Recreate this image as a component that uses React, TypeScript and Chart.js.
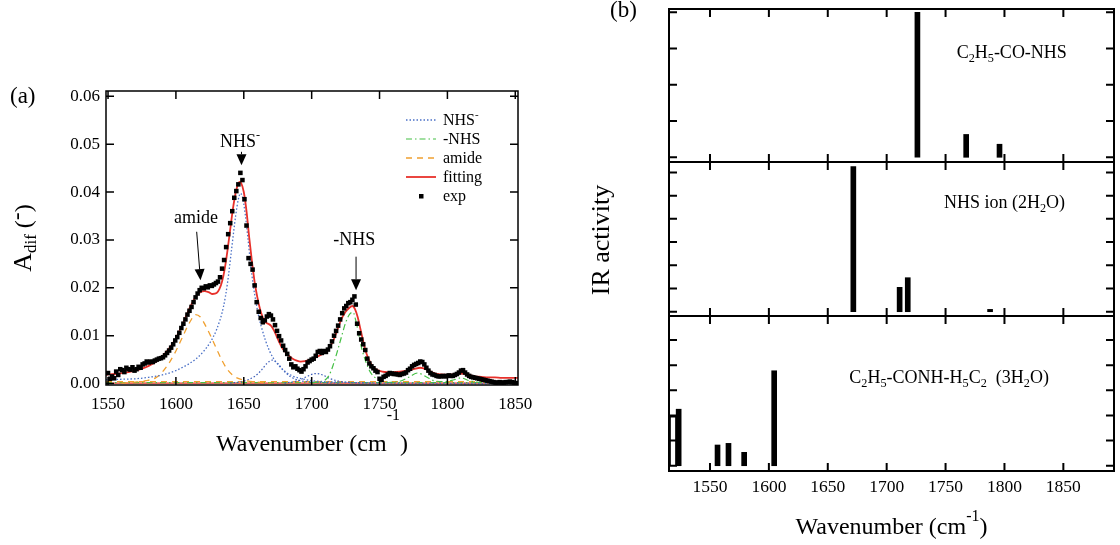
import React, { useEffect, useRef } from 'react';
import { Chart, registerables } from 'chart.js';

Chart.register(...registerables);

const SERIF = "'Liberation Serif', 'Times New Roman', Times, serif";
const RED = '#e8312b';
const BLUE = '#4a70c6';
const BLUE2 = '#3c5cb8';
const GREEN = '#45c045';
const ORANGE = '#f0a030';

// ---------------- panel (a) ----------------
const aXTicks = [1550, 1600, 1650, 1700, 1750, 1800, 1850];
const aYTicks = [0, 0.01, 0.02, 0.03, 0.04, 0.05, 0.06];

const expData: number[][] = [
  [1550, 0.0022], [1551.5, 0.001], [1553, 0.0015], [1554.5, 0.0011], [1556, 0.0025], [1557.5, 0.0018],
  [1559, 0.003], [1560.5, 0.0028], [1562, 0.0024], [1563.5, 0.0033], [1565, 0.003], [1566.5, 0.0029],
  [1568, 0.0034], [1569.5, 0.0027], [1571, 0.003], [1572.5, 0.0035], [1574, 0.0033], [1575.5, 0.004],
  [1577, 0.0042], [1578.5, 0.0046], [1580, 0.0044], [1581.5, 0.0046], [1583, 0.0045], [1584.5, 0.0048],
  [1586, 0.005], [1587.5, 0.0052], [1589, 0.0053], [1590.5, 0.0055], [1592, 0.0059], [1593.5, 0.0064],
  [1595, 0.0069], [1596.5, 0.0075], [1598, 0.0082], [1599.5, 0.009], [1601, 0.0097], [1602.5, 0.0106],
  [1604, 0.0116], [1605.5, 0.0125], [1607, 0.0134], [1608.5, 0.0144], [1610, 0.0152], [1611.5, 0.016],
  [1613, 0.017], [1614.5, 0.018], [1616, 0.0188], [1617.5, 0.0195], [1619, 0.02], [1620.5, 0.0199],
  [1622, 0.0203], [1623.5, 0.0201], [1625, 0.0205], [1626.5, 0.0204], [1628, 0.0207], [1629.5, 0.021],
  [1631, 0.0213], [1632.5, 0.0222], [1634, 0.024], [1635.5, 0.0258], [1637, 0.0285], [1638.5, 0.0312],
  [1640, 0.0335], [1641.5, 0.036], [1643, 0.0388], [1644.5, 0.0402], [1646, 0.0416], [1647.5, 0.044],
  [1649, 0.0425], [1650.5, 0.0385], [1652, 0.033], [1653.5, 0.0262], [1655, 0.025], [1656.5, 0.0238],
  [1658, 0.0205], [1659.5, 0.017], [1661, 0.015], [1662.5, 0.0137], [1664, 0.0128], [1665.5, 0.0132],
  [1667, 0.014], [1668.5, 0.0145], [1670, 0.0142], [1671.5, 0.0134], [1673, 0.0122], [1674.5, 0.011],
  [1676, 0.0099], [1677.5, 0.009], [1679, 0.0079], [1680.5, 0.007], [1682, 0.0062], [1683.5, 0.0052],
  [1685, 0.004], [1686.5, 0.0034], [1688, 0.0036], [1689.5, 0.0031], [1691, 0.0028], [1692.5, 0.0025],
  [1694, 0.003], [1695.5, 0.0036], [1697, 0.0044], [1698.5, 0.0047], [1700, 0.005], [1701.5, 0.0052],
  [1703, 0.0058], [1704.5, 0.0066], [1706, 0.0068], [1707.5, 0.0064], [1709, 0.0068], [1710.5, 0.0066],
  [1712, 0.0071], [1713.5, 0.0078], [1715, 0.0088], [1716.5, 0.01], [1718, 0.011], [1719.5, 0.0121],
  [1721, 0.0134], [1722.5, 0.0147], [1724, 0.0157], [1725.5, 0.0162], [1727, 0.0168], [1728.5, 0.017],
  [1730, 0.0175], [1731.5, 0.0182], [1732.5, 0.0165], [1733.5, 0.0125], [1735, 0.0105], [1736.5, 0.0092],
  [1738, 0.0082], [1739.5, 0.007], [1741, 0.0052], [1742.5, 0.0042], [1744, 0.0036], [1745.5, 0.0032],
  [1747, 0.0027], [1748.5, 0.0024], [1750, 0.001], [1751.5, 0.0008], [1753, 0.0014], [1754.5, 0.0016],
  [1756, 0.0019], [1757.5, 0.0022], [1759, 0.0021], [1760.5, 0.002], [1762, 0.002], [1763.5, 0.0019],
  [1765, 0.0018], [1766.5, 0.002], [1768, 0.0021], [1769.5, 0.0023], [1771, 0.0028], [1772.5, 0.0031],
  [1774, 0.0036], [1775.5, 0.0039], [1777, 0.0041], [1778.5, 0.0043], [1780, 0.0046], [1781.5, 0.0045],
  [1783, 0.004], [1784.5, 0.0033], [1786, 0.0027], [1787.5, 0.0022], [1789, 0.0019], [1790.5, 0.0018],
  [1792, 0.0016], [1793.5, 0.0015], [1795, 0.0015], [1796.5, 0.0016], [1798, 0.0015], [1799.5, 0.0016],
  [1801, 0.0017], [1802.5, 0.0016], [1804, 0.0016], [1805.5, 0.0018], [1807, 0.002], [1808.5, 0.0023],
  [1810, 0.0027], [1811.5, 0.0028], [1813, 0.0023], [1814.5, 0.0019], [1816, 0.0016], [1817.5, 0.0014],
  [1819, 0.0013], [1820.5, 0.0012], [1822, 0.0011], [1823.5, 0.001], [1825, 0.0009], [1826.5, 0.0008],
  [1828, 0.0007], [1829.5, 0.0006], [1831, 0.0005], [1832.5, 0.0004], [1834, 0.0003], [1835.5, 0.0002],
  [1837, 0.0002], [1838.5, 0.0003], [1840, 0.0002], [1841.5, 0.0002], [1843, 0.0003], [1844.5, 0.0003],
  [1846, 0.0004], [1847.5, 0.0003], [1849, 0.0002], [1850.5, 0.0001],
];

const fitData: number[][] = [
  [1548.5, 0.0018], [1550, 0.0019], [1555, 0.002], [1560, 0.0022], [1565, 0.0024], [1570, 0.0027],
  [1575, 0.0031], [1580, 0.0037], [1585, 0.0045], [1590, 0.0057], [1595, 0.0073], [1600, 0.0095],
  [1605, 0.0124], [1610, 0.0157], [1615, 0.0183], [1618, 0.0191], [1621, 0.0193], [1624, 0.0191],
  [1627, 0.0187], [1630, 0.0189], [1632, 0.0197], [1634, 0.0213], [1636, 0.024], [1638, 0.0278],
  [1640, 0.0322], [1642, 0.0365], [1644, 0.0398], [1646, 0.0418], [1647, 0.0421], [1648, 0.0419],
  [1650, 0.04], [1652, 0.036], [1654, 0.0305], [1656, 0.0255], [1658, 0.0212], [1660, 0.018],
  [1662, 0.0155], [1664, 0.0138], [1666, 0.0128], [1668, 0.0125], [1670, 0.0121], [1672, 0.0112],
  [1674, 0.01], [1676, 0.0087], [1678, 0.0076], [1680, 0.0068], [1683, 0.0059], [1686, 0.0052],
  [1689, 0.0048], [1692, 0.0046], [1695, 0.0047], [1698, 0.0049], [1701, 0.0052], [1704, 0.0056],
  [1707, 0.006], [1710, 0.0066], [1713, 0.0075], [1716, 0.009], [1719, 0.0113], [1722, 0.0135],
  [1725, 0.015], [1728, 0.0159], [1730, 0.0162], [1732, 0.0155], [1734, 0.0138], [1736, 0.0113],
  [1738, 0.0088], [1740, 0.0066], [1742, 0.0051], [1744, 0.004], [1746, 0.0033], [1748, 0.0029],
  [1752, 0.0025], [1756, 0.0024], [1760, 0.0024], [1765, 0.0025], [1770, 0.0027], [1775, 0.003],
  [1780, 0.0033], [1785, 0.0029], [1790, 0.0022], [1795, 0.0019], [1800, 0.0018], [1805, 0.0019],
  [1810, 0.0021], [1815, 0.0019], [1820, 0.0015], [1825, 0.0014], [1830, 0.0013], [1835, 0.0013],
  [1840, 0.0012], [1845, 0.0012], [1850, 0.0012], [1852, 0.0012],
];

const nhsIonData: number[][] = [
  [1548.5, 0.0008], [1560, 0.0009], [1570, 0.001], [1580, 0.0013], [1590, 0.0018], [1600, 0.0027],
  [1605, 0.0034], [1610, 0.0042], [1615, 0.0052], [1620, 0.0066], [1625, 0.0085], [1630, 0.0113],
  [1635, 0.016], [1638, 0.021], [1641, 0.028], [1644, 0.035], [1646, 0.0385], [1647.5, 0.0397],
  [1649, 0.039], [1651, 0.0355], [1653, 0.0305], [1655, 0.025], [1657, 0.0205], [1659, 0.017],
  [1661, 0.014], [1663, 0.0118], [1666, 0.009], [1669, 0.0068], [1672, 0.0052], [1676, 0.0037],
  [1680, 0.0026], [1685, 0.0017], [1690, 0.0012], [1700, 0.0006], [1720, 0.0003], [1750, 0.0001],
  [1852, 0.0],
];

const nhsEsterData: number[][] = [
  [1700, 0.0002], [1709, 0.0006], [1713, 0.0018], [1716, 0.004], [1719, 0.0068], [1722, 0.0098],
  [1725, 0.0127], [1728, 0.0145], [1730.5, 0.0149], [1733, 0.0125], [1735, 0.0098], [1737, 0.0072],
  [1740, 0.0045], [1743, 0.0025], [1747, 0.0012], [1752, 0.0005], [1760, 0.0002],
];

const amideData: number[][] = [
  [1560, 0.0001], [1570, 0.0003], [1578, 0.0006], [1585, 0.0012], [1590, 0.0024], [1595, 0.0043],
  [1600, 0.0068], [1605, 0.0098], [1610, 0.0127], [1614.5, 0.0144], [1618, 0.0139], [1622, 0.012],
  [1626, 0.0097], [1630, 0.0072], [1634, 0.0048], [1638, 0.0029], [1643, 0.0015], [1650, 0.0007],
  [1660, 0.0003], [1670, 0.0001],
];

const blueMinorA: number[][] = [
  [1640, 0.0001], [1650, 0.0005], [1658, 0.0015], [1663, 0.0028], [1667, 0.0042], [1671, 0.0049],
  [1675, 0.0042], [1679, 0.0028], [1684, 0.0015], [1690, 0.0007], [1700, 0.0003], [1720, 0.0001],
];

const blueMinorB: number[][] = [
  [1680, 0.0001], [1690, 0.0006], [1696, 0.0014], [1701, 0.002], [1704, 0.0021], [1708, 0.0018],
  [1713, 0.0011], [1720, 0.0005], [1730, 0.0002], [1745, 0.0001],
];

const greenMinor: number[][] = [
  [1755, 0.0002], [1765, 0.0005], [1772, 0.0014], [1778, 0.0022], [1784, 0.0015], [1790, 0.0006],
  [1798, 0.0004], [1805, 0.0008], [1810, 0.0012], [1815, 0.0007], [1825, 0.0002], [1852, 0.0001],
];

const baseOrange: number[][] = [[1548.5, 0.0004], [1852, 0.0004]];
const baseGreen: number[][] = [[1548.5, 0.0002], [1852, 0.0002]];
const baseRed: number[][] = [[1548.5, 0.0001], [1852, 0.0001]];

// ---------------- panel (b) ----------------
const bXTicks = [1550, 1600, 1650, 1700, 1750, 1800, 1850];
const topTicks = [0, 1, 2, 3, 4];
const midTicks = [0, 1, 2, 3, 4, 5, 6];
const botTicks = [0, 1, 2, 3, 4, 5];

const topBars: number[][] = [[1726.1, 4.0], [1767.5, 0.63], [1795.8, 0.36]];
const midBars: number[][] = [[1671.7, 6.25], [1711.0, 1.05], [1717.9, 1.465], [1787.8, 0.1]];
const botBars: number[][] = [[1523.4, 2.25], [1556.4, 0.825], [1565.7, 0.89], [1579.0, 0.534], [1604.5, 3.78]];
const botHollowBars: number[][] = [[1518.6, 1.99]];

// ---------------- helpers ----------------
type Part = { t: string; k?: 'sub' | 'sup'; s?: number; d?: number };

function drawRich(ctx: CanvasRenderingContext2D, parts: Part[], x: number, y: number, size: number, align: 'left' | 'center' | 'right') {
  const sz = (p: Part) => p.s ?? (p.k ? size * 0.68 : size);
  const off = (p: Part) => p.d ?? (p.k === 'sub' ? size * 0.22 : p.k === 'sup' ? -size * 0.42 : 0);
  let w = 0;
  for (const p of parts) {
    ctx.font = `${sz(p)}px ${SERIF}`;
    w += ctx.measureText(p.t).width;
  }
  let cx = align === 'center' ? x - w / 2 : align === 'right' ? x - w : x;
  ctx.textAlign = 'left';
  ctx.textBaseline = 'alphabetic';
  for (const p of parts) {
    ctx.font = `${sz(p)}px ${SERIF}`;
    ctx.fillText(p.t, cx, y + off(p));
    cx += ctx.measureText(p.t).width;
  }
}

const toXY = (arr: number[][]) => arr.map(([x, y]) => ({ x, y }));

function lineDs(label: string, data: number[][], color: string, width: number, dash: number[], order: number) {
  return {
    label,
    data: toXY(data),
    borderColor: color,
    backgroundColor: color,
    borderWidth: width,
    borderDash: dash,
    pointRadius: 0,
    pointHoverRadius: 0,
    fill: false,
    cubicInterpolationMode: 'monotone',
    order,
  };
}

function frameTicks(lw: number, len: number, xTicks: number[], yTicks: number[]) {
  return {
    id: 'frameTicks',
    afterDatasetsDraw(chart: any) {
      const { ctx, chartArea, scales } = chart;
      const { left, right, top, bottom } = chartArea;
      ctx.save();
      ctx.strokeStyle = '#000';
      ctx.lineWidth = lw;
      ctx.setLineDash([]);
      ctx.strokeRect(left, top, right - left, bottom - top);
      ctx.beginPath();
      for (const v of xTicks) {
        const px = scales.x.getPixelForValue(v);
        ctx.moveTo(px, bottom);
        ctx.lineTo(px, bottom - len);
        ctx.moveTo(px, top);
        ctx.lineTo(px, top + len);
      }
      for (const v of yTicks) {
        const py = scales.y.getPixelForValue(v);
        ctx.moveTo(left, py);
        ctx.lineTo(left + len, py);
        ctx.moveTo(right, py);
        ctx.lineTo(right - len, py);
      }
      ctx.stroke();
      ctx.restore();
    },
  };
}

function arrow(ctx: CanvasRenderingContext2D, x1: number, y1: number, x2: number, y2: number) {
  const ang = Math.atan2(y2 - y1, x2 - x1);
  const hl = 11, hw = 5;
  const bx = x2 - hl * Math.cos(ang), by = y2 - hl * Math.sin(ang);
  ctx.beginPath();
  ctx.lineWidth = 1;
  ctx.moveTo(x1, y1);
  ctx.lineTo(bx, by);
  ctx.stroke();
  ctx.beginPath();
  ctx.moveTo(x2, y2);
  ctx.lineTo(bx + hw * Math.sin(ang), by - hw * Math.cos(ang));
  ctx.lineTo(bx - hw * Math.sin(ang), by + hw * Math.cos(ang));
  ctx.closePath();
  ctx.fill();
}

// annotation anchors, in data units (wavenumber, A_dif)
const annotations = [
  { parts: [{ t: 'NHS' }, { t: '-', k: 'sup' }] as Part[], lx: 1647.2, ly: 0.0494, tail: [1648.3, 0.0484], tip: [1648.3, 0.0456] },
  { parts: [{ t: 'amide' }] as Part[], lx: 1614.8, ly: 0.0335, tail: [1615.3, 0.0317], tip: [1618.1, 0.0216] },
  { parts: [{ t: '-NHS' }] as Part[], lx: 1731.4, ly: 0.0289, tail: [1732.7, 0.0265], tip: [1732.7, 0.0195] },
];

const legendRows: { parts: Part[]; key: string }[] = [
  { parts: [{ t: 'NHS' }, { t: '-', k: 'sup', d: -7 }], key: 'NHS-' },
  { parts: [{ t: '-NHS' }], key: '-NHS' },
  { parts: [{ t: 'amide' }], key: 'amide' },
  { parts: [{ t: 'fitting' }], key: 'fitting' },
  { parts: [{ t: 'exp' }], key: 'exp' },
];

const leftDecor = {
  id: 'leftDecor',
  afterDraw(chart: any) {
    const { ctx, scales, chartArea } = chart;
    const sx = scales.x, sy = scales.y;
    ctx.save();
    ctx.fillStyle = '#000';
    ctx.strokeStyle = '#000';
    // panel label
    drawRich(ctx, [{ t: '(a)' }], 10, 103, 23, 'left');
    // x title
    const cx = (chartArea.left + chartArea.right) / 2;
    drawRich(ctx, [{ t: 'Wavenumber (cm' }, { t: '-1', k: 'sup', s: 16, d: -31 }, { t: ')' }], cx, 451, 24, 'center');
    // y title (rotated)
    const cy = (chartArea.top + chartArea.bottom) / 2;
    ctx.save();
    ctx.translate(31, cy);
    ctx.rotate(-Math.PI / 2);
    drawRich(ctx, [{ t: 'A', s: 26 }, { t: 'dif', k: 'sub', s: 17, d: 5 }, { t: ' (' }, { t: '-', d: -7 }, { t: ')' }], 0, 0, 24, 'center');
    ctx.restore();
    // annotations
    for (const a of annotations) {
      drawRich(ctx, a.parts, sx.getPixelForValue(a.lx), sy.getPixelForValue(a.ly), 18, 'center');
      arrow(ctx, sx.getPixelForValue(a.tail[0]), sy.getPixelForValue(a.tail[1]), sx.getPixelForValue(a.tip[0]), sy.getPixelForValue(a.tip[1]));
    }
    // legend
    const ds = chart.data.datasets;
    legendRows.forEach((row, i) => {
      const yc = 120 + i * 19;
      const d = ds.find((q: any) => q.label === row.key);
      if (row.key === 'exp') {
        ctx.fillStyle = '#000';
        ctx.fillRect(419, yc - 2, 4.5, 4.5);
      } else {
        ctx.save();
        ctx.strokeStyle = d.borderColor;
        ctx.lineWidth = d.borderWidth;
        ctx.setLineDash(d.borderDash || []);
        ctx.beginPath();
        ctx.moveTo(406, yc);
        ctx.lineTo(436, yc);
        ctx.stroke();
        ctx.restore();
      }
      ctx.fillStyle = '#000';
      drawRich(ctx, row.parts, 443, yc + 5, 16, 'left');
    });
    ctx.restore();
  },
};

function makeLeftConfig(): any {
  return {
    type: 'line',
    data: {
      datasets: [
        {
          label: 'exp', data: toXY(expData), showLine: false, pointStyle: 'rect', pointRadius: 3.2, pointHoverRadius: 3.2,
          pointBorderWidth: 0, pointBackgroundColor: '#000', borderColor: '#000', backgroundColor: '#000', order: 0,
        },
        lineDs('fitting', fitData, RED, 1.8, [], 1),
        lineDs('NHS-', nhsIonData, BLUE, 1.3, [1.5, 2], 3),
        lineDs('-NHS', nhsEsterData, GREEN, 1.2, [6, 3, 1.5, 3], 3),
        lineDs('amide', amideData, ORANGE, 1.3, [6, 5], 3),
        lineDs('minorBlueA', blueMinorA, BLUE2, 1.2, [1.5, 2], 4),
        lineDs('minorBlueB', blueMinorB, BLUE2, 1.2, [1.5, 2], 4),
        lineDs('minorGreen', greenMinor, GREEN, 1.1, [6, 3, 1.5, 3], 4),
        lineDs('baseOrange', baseOrange, ORANGE, 1.2, [6, 5], 5),
        lineDs('baseGreen', baseGreen, GREEN, 1.1, [6, 3, 1.5, 3], 5),
        lineDs('baseRed', baseRed, RED, 1.2, [], 5),
      ],
    },
    options: {
      animation: false,
      responsive: false,
      maintainAspectRatio: false,
      layout: { padding: { left: 66, right: 42, top: 91, bottom: 120 } },
      plugins: { legend: { display: false }, tooltip: { enabled: false } },
      events: [],
      scales: {
        x: {
          type: 'linear', min: 1548.5, max: 1852, offset: false,
          grid: { display: false, drawTicks: false }, border: { display: false },
          ticks: { font: { family: SERIF, size: 17 }, color: '#000', padding: 9, maxRotation: 0, autoSkip: false, callback: (v: any) => String(v) },
          afterBuildTicks: (s: any) => { s.ticks = aXTicks.map((v) => ({ value: v })); },
          afterFit: (s: any) => { s.height = 40; },
        },
        y: {
          type: 'linear', min: -0.0003, max: 0.0611,
          grid: { display: false, drawTicks: false }, border: { display: false },
          ticks: { font: { family: SERIF, size: 17 }, color: '#000', padding: 6, autoSkip: false, callback: (v: any) => Number(v).toFixed(2) },
          afterBuildTicks: (s: any) => { s.ticks = aYTicks.map((v) => ({ value: v })); },
          afterFit: (s: any) => { s.width = 40; },
        },
      },
    },
    plugins: [frameTicks(1.5, 8, aXTicks, aYTicks), leftDecor],
  };
}

// right panels (canvas starts at page x = RX)
const RX = 570;
type PanelText = { parts: Part[]; x: number; y: number };

function panelDecor(texts: PanelText[], extra?: (chart: any) => void) {
  return {
    id: 'panelDecor',
    afterDraw(chart: any) {
      const { ctx, scales } = chart;
      ctx.save();
      ctx.fillStyle = '#000';
      for (const t of texts) {
        drawRich(ctx, t.parts, scales.x.getPixelForValue(t.x), scales.y.getPixelForValue(t.y), 18, 'left');
      }
      if (extra) extra(chart);
      ctx.restore();
    },
  };
}

function makePanelConfig(opts: {
  bars: number[][]; hollow?: number[][]; yMin: number; yMax: number; yTicks: number[];
  padTop: number; padBottom: number; showX: boolean; texts: PanelText[]; extra?: (chart: any) => void;
}): any {
  const datasets: any[] = [
    {
      label: 'bars', data: toXY(opts.bars), backgroundColor: '#000', borderWidth: 0, barThickness: 5, grouped: false, order: 0,
    },
  ];
  if (opts.hollow) {
    datasets.push({
      label: 'hollow', data: toXY(opts.hollow), backgroundColor: 'rgba(0,0,0,0)', borderColor: '#000', borderWidth: 1.5,
      barThickness: 8, grouped: false, order: 1,
    });
  }
  return {
    type: 'bar',
    data: { datasets },
    options: {
      animation: false,
      responsive: false,
      maintainAspectRatio: false,
      events: [],
      layout: { padding: { left: 669 - RX, right: 6, top: opts.padTop, bottom: opts.padBottom } },
      plugins: { legend: { display: false }, tooltip: { enabled: false } },
      scales: {
        x: {
          type: 'linear', min: 1515.2, max: 1893, offset: false, display: opts.showX,
          grid: { display: false, drawTicks: false }, border: { display: false },
          ticks: { font: { family: SERIF, size: 17.5 }, color: '#000', padding: 6, maxRotation: 0, autoSkip: false, callback: (v: any) => String(v) },
          afterBuildTicks: (s: any) => { s.ticks = bXTicks.map((v) => ({ value: v })); },
          afterFit: (s: any) => { if (opts.showX) s.height = 40; },
        },
        y: {
          type: 'linear', min: opts.yMin, max: opts.yMax, display: false,
          afterBuildTicks: (s: any) => { s.ticks = opts.yTicks.map((v) => ({ value: v })); },
        },
      },
    },
    plugins: [frameTicks(2, 8, bXTicks, opts.yTicks), panelDecor(opts.texts, opts.extra)],
  };
}

const topConfig = () => makePanelConfig({
  bars: topBars, yMin: -0.13, yMax: 4.09, yTicks: topTicks, padTop: 9, padBottom: 383, showX: false,
  texts: [{ parts: [{ t: 'C' }, { t: '2', k: 'sub' }, { t: 'H' }, { t: '5', k: 'sub' }, { t: '-CO-NHS' }], x: 1759.4, y: 2.75 }],
  extra: (chart) => { drawRich(chart.ctx, [{ t: '(b)' }], 610 - RX, 17, 23, 'left'); },
});

const midConfig = () => makePanelConfig({
  bars: midBars, yMin: -0.185, yMax: 6.45, yTicks: midTicks, padTop: 162, padBottom: 229, showX: false,
  texts: [{ parts: [{ t: 'NHS ion (2H' }, { t: '2', k: 'sub' }, { t: 'O)' }], x: 1748.6, y: 4.48 }],
  extra: (chart) => {
    const ctx = chart.ctx;
    ctx.save();
    ctx.translate(609 - RX, 240);
    ctx.rotate(-Math.PI / 2);
    drawRich(ctx, [{ t: 'IR activity' }], 0, 0, 26, 'center');
    ctx.restore();
  },
});

const botConfig = () => makePanelConfig({
  bars: botBars, hollow: botHollowBars, yMin: -0.21, yMax: 5.96, yTicks: botTicks, padTop: 316, padBottom: 34, showX: true,
  texts: [{
    parts: [{ t: 'C' }, { t: '2', k: 'sub' }, { t: 'H' }, { t: '5', k: 'sub' }, { t: '-CONH-H' }, { t: '5', k: 'sub' }, { t: 'C' }, { t: '2', k: 'sub' },
      { t: '  (3H' }, { t: '2', k: 'sub' }, { t: 'O)' }],
    x: 1668.3, y: 3.3,
  }],
  extra: (chart) => {
    const ca = chart.chartArea;
    drawRich(chart.ctx, [{ t: 'Wavenumber (cm' }, { t: '-1', k: 'sup', s: 16, d: -13 }, { t: ')' }], (ca.left + ca.right) / 2, 534, 24, 'center');
  },
});

function ChartCanvas({ make, left, top, width, height }: { make: () => any; left: number; top: number; width: number; height: number }) {
  const ref = useRef<HTMLCanvasElement | null>(null);
  useEffect(() => {
    if (!ref.current) return;
    const chart = new Chart(ref.current, make());
    return () => chart.destroy();
  }, []);
  return (
    <canvas
      ref={ref}
      width={width}
      height={height}
      style={{ position: 'absolute', left, top, width, height, display: 'block' }}
    />
  );
}

export default function App() {
  return (
    <div style={{ position: 'absolute', left: 0, top: 0, width: 1120, height: 545, background: '#fff', overflow: 'hidden' }}>
      <ChartCanvas make={makeLeftConfig} left={0} top={0} width={560} height={545} />
      <ChartCanvas make={topConfig} left={RX} top={0} width={1120 - RX} height={545} />
      <ChartCanvas make={midConfig} left={RX} top={0} width={1120 - RX} height={545} />
      <ChartCanvas make={botConfig} left={RX} top={0} width={1120 - RX} height={545} />
    </div>
  );
}
